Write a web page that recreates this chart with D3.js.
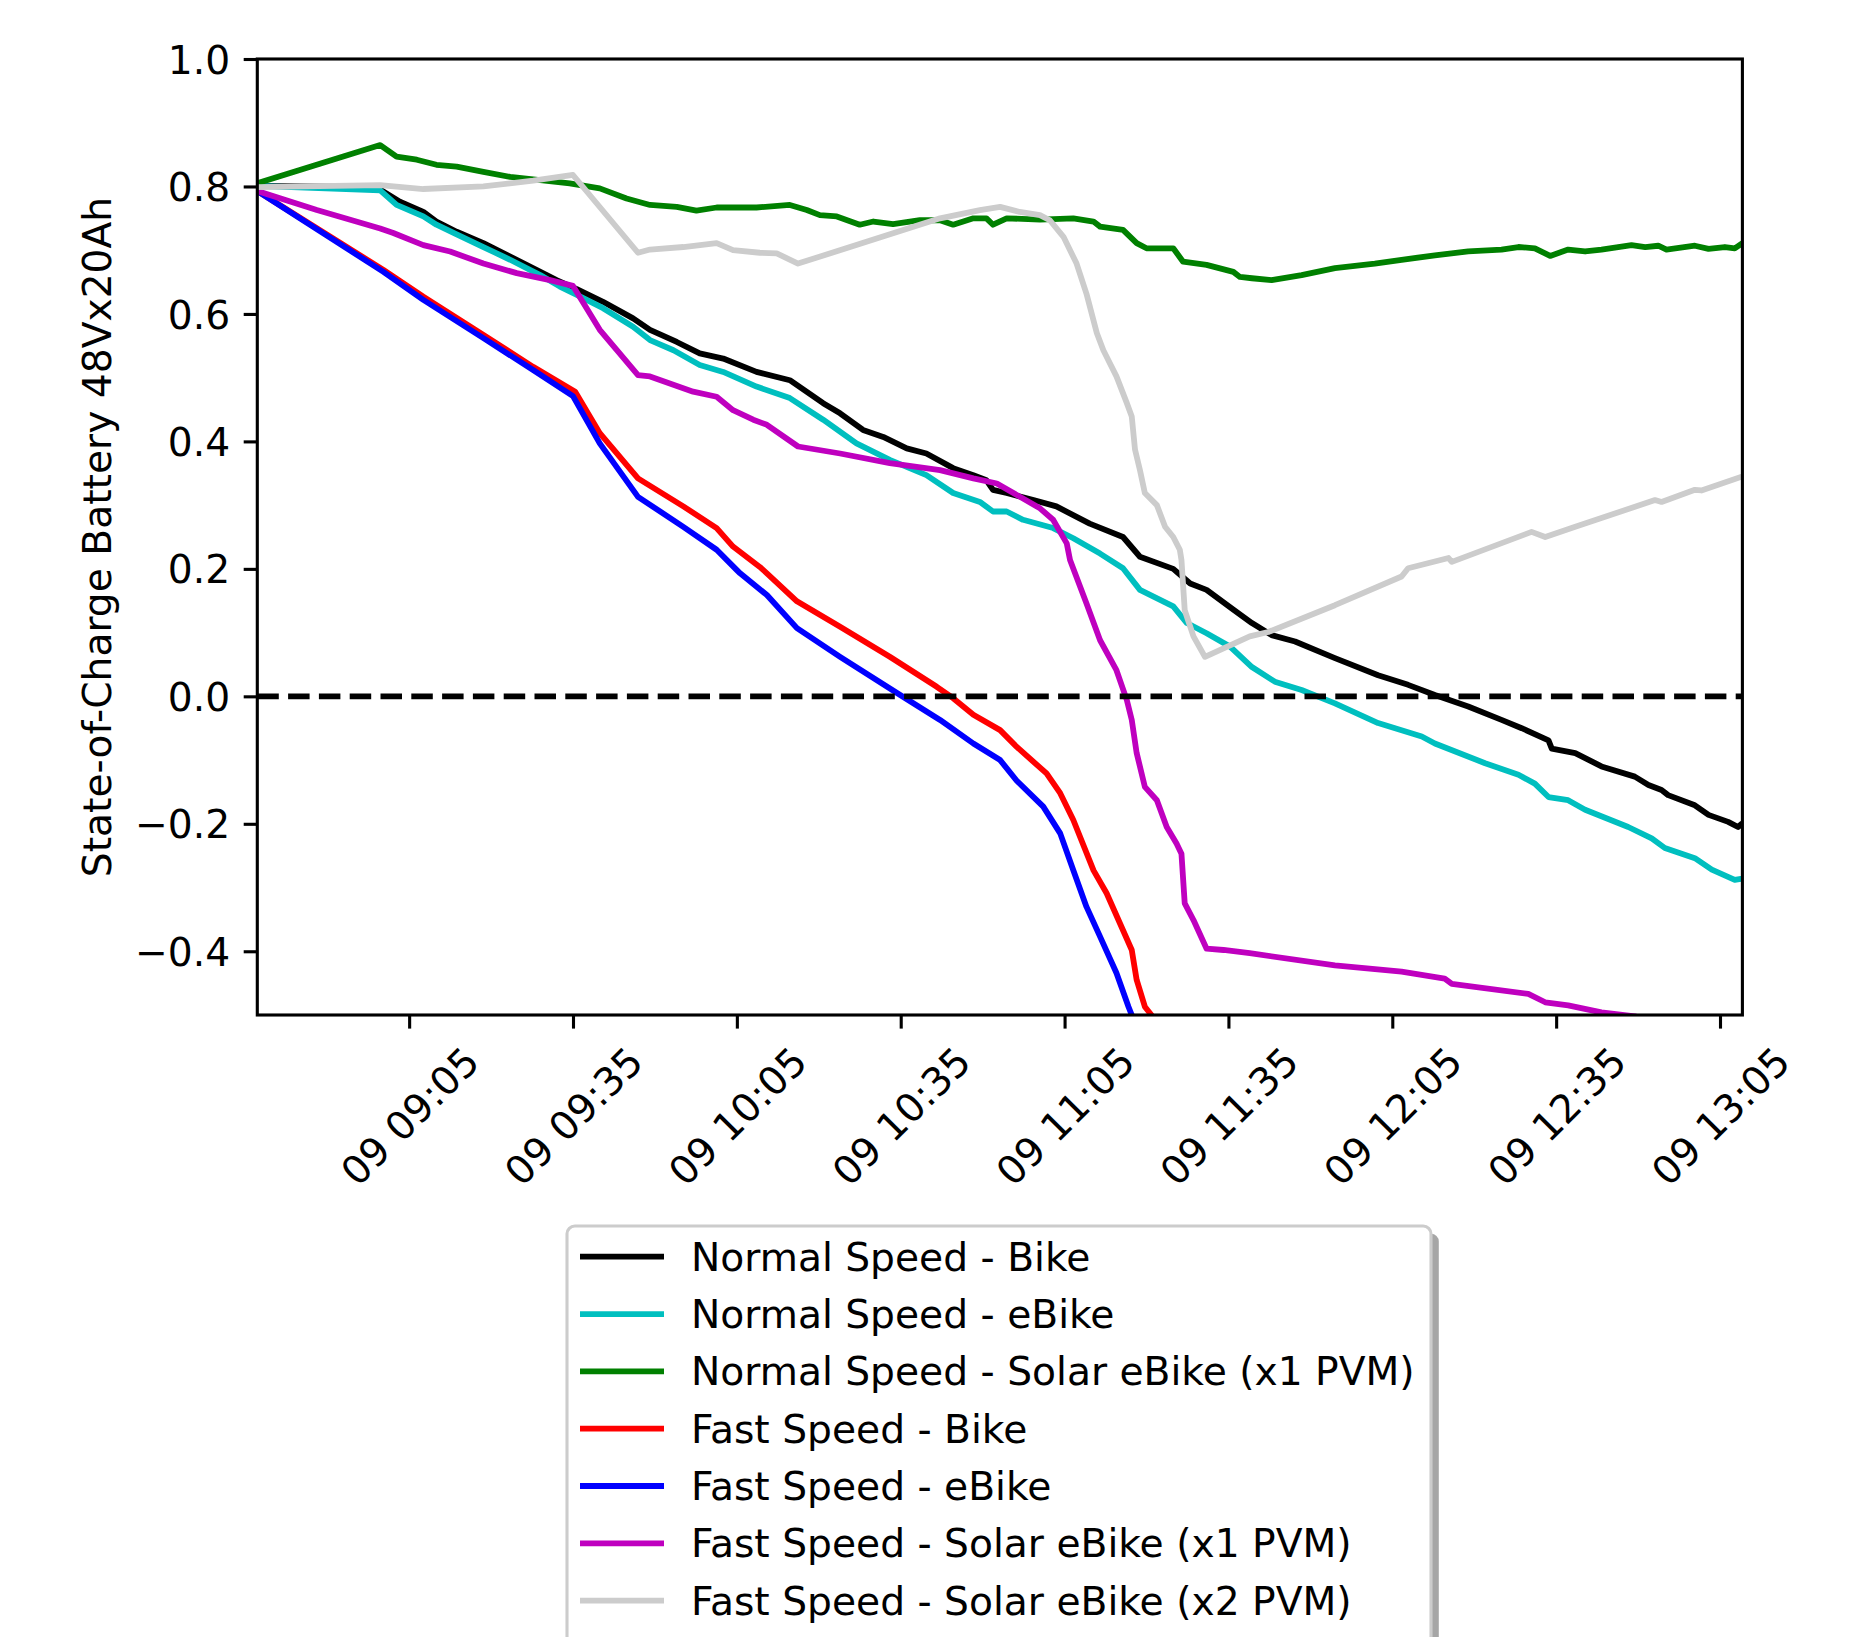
<!DOCTYPE html>
<html><head><meta charset="utf-8">
<script src="https://cdn.jsdelivr.net/npm/d3@7"></script>
<style>
body{margin:0;background:#fff}
text{font-family:"DejaVu Sans",sans-serif;fill:#000}
</style>
</head><body>
<svg id="chart" width="1851" height="1637"></svg>
<script>
// Time is given as minutes after 08:00 on day 09; value is state of charge.
const seriesNames = [
  "Normal Speed - Bike",
  "Normal Speed - eBike",
  "Normal Speed - Solar eBike (x1 PVM)",
  "Fast Speed - Bike",
  "Fast Speed - eBike",
  "Fast Speed - Solar eBike (x1 PVM)",
  "Fast Speed - Solar eBike (x2 PVM)"
];
const seriesColors = ["#000000","#00bfbf","#008000","#ff0000","#0000ff","#bf00bf","#cccccc"];

const normalBike = [[37.2,0.801],[59.0,0.799],[63.3,0.776],[67.6,0.760],[70.0,0.745],[73.7,0.729],[78.6,0.711],[83.5,0.690],[88.3,0.669],[92.0,0.653],[95.7,0.639],[100.5,0.619],[106.0,0.593],[109.1,0.575],[114.0,0.556],[118.2,0.538],[122.5,0.530],[128.6,0.509],[134.7,0.496],[140.8,0.460],[143.9,0.444],[148.1,0.418],[151.8,0.407],[156.1,0.389],[159.7,0.381],[164.6,0.358],[168.3,0.347],[170.7,0.339],[171.9,0.324],[174.4,0.319],[179.3,0.308],[183.5,0.298],[189.6,0.271],[195.7,0.250],[198.8,0.219],[204.9,0.200],[208.0,0.177],[211.0,0.167],[215.9,0.136],[219.3,0.115],[222.9,0.096],[227.2,0.086],[234.5,0.060],[242.4,0.033],[247.9,0.018],[252.8,0.002],[258.9,-0.016],[265.0,-0.037],[268.7,-0.050],[273.6,-0.069],[274.2,-0.082],[278.5,-0.089],[283.3,-0.110],[289.4,-0.126],[291.9,-0.139],[294.3,-0.147],[295.5,-0.155],[300.4,-0.171],[302.9,-0.186],[306.5,-0.197],[308.3,-0.205],[309.1,-0.199]];

const normalEBike = [[37.2,0.801],[59.7,0.794],[62.7,0.771],[67.6,0.753],[70.0,0.740],[73.7,0.725],[78.6,0.705],[83.5,0.685],[89.0,0.661],[92.6,0.643],[95.7,0.630],[100.5,0.609],[106.0,0.580],[109.1,0.559],[113.4,0.543],[118.2,0.520],[122.5,0.509],[128.6,0.486],[134.7,0.468],[140.8,0.434],[146.9,0.397],[153.0,0.371],[159.7,0.347],[164.6,0.319],[169.5,0.305],[171.9,0.290],[174.4,0.290],[177.4,0.277],[182.9,0.264],[186.6,0.248],[191.5,0.224],[195.7,0.201],[198.8,0.167],[204.9,0.141],[207.4,0.115],[211.0,0.099],[215.3,0.078],[219.3,0.046],[223.5,0.023],[228.4,0.010],[234.5,-0.011],[242.4,-0.042],[250.4,-0.063],[252.8,-0.074],[262.0,-0.105],[268.1,-0.123],[271.1,-0.137],[273.6,-0.158],[277.2,-0.163],[280.3,-0.178],[288.2,-0.205],[292.5,-0.223],[294.9,-0.238],[300.4,-0.254],[303.5,-0.272],[307.7,-0.288],[309.1,-0.286]];

const normalSolar1 = [[37.2,0.805],[59.7,0.865],[62.7,0.847],[66.4,0.842],[70.0,0.834],[73.7,0.831],[78.6,0.823],[83.5,0.815],[89.0,0.810],[94.4,0.805],[99.9,0.797],[104.8,0.781],[109.1,0.771],[114.0,0.768],[117.6,0.762],[121.3,0.767],[128.6,0.767],[134.7,0.771],[137.8,0.763],[140.2,0.755],[143.3,0.753],[147.5,0.740],[150.0,0.745],[153.6,0.741],[158.5,0.747],[162.2,0.747],[164.6,0.740],[168.3,0.750],[170.7,0.750],[171.9,0.740],[174.4,0.750],[180.5,0.748],[186.6,0.750],[190.3,0.745],[191.5,0.737],[195.7,0.732],[198.2,0.711],[200.0,0.703],[204.9,0.703],[206.7,0.682],[211.0,0.677],[215.9,0.666],[217.1,0.658],[219.3,0.656],[222.9,0.653],[228.4,0.661],[234.5,0.672],[241.8,0.679],[246.7,0.685],[252.8,0.692],[258.9,0.698],[265.0,0.701],[268.1,0.705],[271.1,0.703],[273.9,0.691],[277.2,0.701],[280.3,0.698],[283.3,0.701],[288.8,0.708],[291.3,0.705],[293.7,0.707],[295.2,0.701],[300.4,0.707],[302.9,0.702],[305.9,0.705],[307.7,0.703],[309.1,0.711]];

const fastBike = [[37.2,0.793],[60.3,0.669],[67.6,0.627],[78.6,0.567],[87.7,0.517],[95.4,0.478],[99.9,0.413],[106.9,0.342],[115.2,0.298],[121.3,0.264],[124.3,0.235],[129.2,0.203],[130.5,0.193],[136.0,0.149],[143.9,0.109],[153.0,0.062],[161.6,0.015],[164.6,-0.003],[168.3,-0.029],[173.2,-0.053],[176.2,-0.079],[181.7,-0.121],[184.2,-0.152],[186.6,-0.194],[190.3,-0.273],[192.7,-0.309],[195.7,-0.367],[197.3,-0.398],[198.2,-0.445],[199.7,-0.487],[200.9,-0.500],[202.0,-0.530]];

const fastEBike = [[37.2,0.793],[60.3,0.666],[67.6,0.622],[78.6,0.562],[87.7,0.512],[95.0,0.471],[99.9,0.397],[106.9,0.313],[115.2,0.266],[121.3,0.230],[125.0,0.198],[125.6,0.193],[130.5,0.159],[136.0,0.107],[143.9,0.062],[154.9,0.002],[162.2,-0.037],[168.3,-0.074],[173.2,-0.100],[176.2,-0.132],[181.1,-0.173],[184.2,-0.215],[186.6,-0.273],[189.0,-0.330],[191.5,-0.377],[194.5,-0.434],[196.7,-0.487],[197.3,-0.500],[198.0,-0.530]];

const fastSolar1 = [[37.2,0.793],[48.1,0.763],[59.7,0.734],[62.1,0.727],[67.6,0.708],[72.5,0.698],[78.6,0.679],[84.7,0.664],[90.8,0.653],[95.0,0.644],[99.9,0.575],[106.9,0.504],[109.1,0.502],[117.0,0.478],[121.3,0.470],[124.3,0.449],[128.0,0.434],[130.5,0.426],[136.2,0.392],[143.9,0.381],[153.0,0.366],[162.2,0.355],[168.3,0.342],[172.6,0.334],[180.5,0.295],[182.9,0.277],[185.4,0.240],[186.0,0.214],[189.0,0.146],[191.5,0.088],[194.5,0.041],[196.4,-0.006],[197.3,-0.037],[198.2,-0.089],[199.7,-0.142],[201.9,-0.163],[203.7,-0.205],[205.5,-0.231],[206.4,-0.247],[207.0,-0.325],[208.6,-0.351],[211.0,-0.396],[214.1,-0.398],[218.9,-0.403],[234.5,-0.422],[246.7,-0.432],[254.6,-0.443],[255.9,-0.451],[269.9,-0.467],[273.0,-0.480],[277.2,-0.485],[283.3,-0.496],[289.4,-0.502],[292.0,-0.510]];

const fastSolar2 = [[37.2,0.799],[59.7,0.802],[67.6,0.796],[78.6,0.800],[87.7,0.809],[95.0,0.818],[106.9,0.696],[109.1,0.701],[115.2,0.705],[121.3,0.711],[124.3,0.700],[129.2,0.696],[132.3,0.695],[136.2,0.679],[162.2,0.750],[169.5,0.763],[173.2,0.768],[176.8,0.760],[180.5,0.755],[182.3,0.747],[184.8,0.721],[187.2,0.679],[189.0,0.632],[190.9,0.570],[192.1,0.543],[194.5,0.502],[196.4,0.460],[197.3,0.439],[197.9,0.387],[198.8,0.355],[199.7,0.319],[201.9,0.300],[203.4,0.266],[204.9,0.250],[206.1,0.230],[206.4,0.214],[207.0,0.135],[208.6,0.094],[210.7,0.062],[218.9,0.094],[222.3,0.101],[234.5,0.143],[246.7,0.188],[247.9,0.201],[255.3,0.217],[255.9,0.211],[270.5,0.258],[273.0,0.250],[278.5,0.266],[293.1,0.308],[294.3,0.305],[300.4,0.324],[301.6,0.323],[309.1,0.345]];

const seriesData = [normalBike, normalEBike, normalSolar1, fastBike, fastEBike, fastSolar1, fastSolar2];

const xStartMin = 37.2, xEndMin = 309.1;          // axis limits, minutes after 08:00
const xTickLabels = ["09:05","09:35","10:05","10:35","11:05","11:35","12:05","12:35","13:05"];
const yTicks = [-0.4,-0.2,0.0,0.2,0.4,0.6,0.8,1.0];
const yDomain = [-0.5, 1.0];
const yLabel = "State-of-Charge Battery 48Vx20Ah";
const refLineValue = 0.0;

// ---------- layout ----------
const FS = 39.2;
const plot = {left:257.3, right:1742.4, top:59, bottom:1015};
const tickLen = 13.6, tickW = 3.1, lineW = 5.8;

const base = new Date(2019, 0, 9, 8, 0, 0);
const toDate = m => new Date(base.getTime() + m * 60000);
const parseClock = d3.timeParse("%Y-%m-%d %H:%M");

const svg = d3.select("#chart");
svg.append("rect").attr("width",1851).attr("height",1637).attr("fill","#fff");

const x = d3.scaleTime().domain([toDate(xStartMin), toDate(xEndMin)]).range([plot.left, plot.right]);
const y = d3.scaleLinear().domain(yDomain).range([plot.bottom, plot.top]);

svg.append("clipPath").attr("id","clip").append("rect")
  .attr("x",plot.left).attr("y",plot.top)
  .attr("width",plot.right-plot.left).attr("height",plot.bottom-plot.top);

const line = d3.line().x(d => x(toDate(d[0]))).y(d => y(d[1]));
const g = svg.append("g").attr("clip-path","url(#clip)");
seriesData.forEach((data, i) => {
  g.append("path").attr("d", line(data)).attr("fill","none")
    .attr("stroke", seriesColors[i]).attr("stroke-width", lineW)
    .attr("stroke-linejoin","round").attr("stroke-linecap","butt");
});
// zero reference line
g.append("line").attr("x1",plot.left).attr("x2",plot.right)
  .attr("y1",y(refLineValue)).attr("y2",y(refLineValue))
  .attr("stroke","#000").attr("stroke-width",lineW).attr("stroke-dasharray","21.5,9.3");

// axes
const xTicks = xTickLabels.map(s => parseClock("2019-01-09 " + s));
const xAxis = d3.axisBottom(x).tickValues(xTicks).tickFormat(d3.timeFormat("%d %H:%M"))
  .tickSize(tickLen).tickPadding(tickLen);
const gx = svg.append("g").attr("transform",`translate(0,${plot.bottom})`).call(xAxis);
gx.select(".domain").remove();
gx.selectAll(".tick line").attr("stroke","#000").attr("stroke-width",tickW);
gx.selectAll(".tick text").attr("font-size",FS).attr("font-family","DejaVu Sans")
  .attr("text-anchor","middle").attr("x",0).attr("y",0).attr("dy","0.36em")
  .attr("transform",`translate(0,${1116-plot.bottom}) rotate(-45)`);

const yAxis = d3.axisLeft(y).tickValues(yTicks).tickFormat(d3.format(".1f"))
  .tickSize(tickLen).tickPadding(tickLen);
const gy = svg.append("g").attr("transform",`translate(${plot.left},0)`).call(yAxis);
gy.select(".domain").remove();
gy.selectAll(".tick line").attr("stroke","#000").attr("stroke-width",tickW);
gy.selectAll(".tick text").attr("font-size",FS).attr("font-family","DejaVu Sans").attr("dy","0.36em");

// spines
svg.append("rect").attr("x",plot.left).attr("y",plot.top)
  .attr("width",plot.right-plot.left).attr("height",plot.bottom-plot.top)
  .attr("fill","none").attr("stroke","#000").attr("stroke-width",tickW);

// y label
svg.append("text").attr("transform",`translate(111,${(plot.top+plot.bottom)/2}) rotate(-90)`)
  .attr("text-anchor","middle").attr("font-size",FS).text(yLabel);

// legend
const leg = {left:567, right:1431, top:1226, bottom:1644, row0:1256.7, rowStep:57.33};
svg.append("rect").attr("x",leg.left+7.8).attr("y",leg.top+7.8)
  .attr("width",leg.right-leg.left).attr("height",leg.bottom-leg.top)
  .attr("rx",7.8).attr("fill","#4d4d4d").attr("opacity",0.5);
svg.append("rect").attr("x",leg.left).attr("y",leg.top)
  .attr("width",leg.right-leg.left).attr("height",leg.bottom-leg.top)
  .attr("rx",7.8).attr("fill","#fff").attr("stroke","#cccccc").attr("stroke-width",tickW);
const items = svg.append("g").selectAll("g").data(seriesNames).join("g")
  .attr("transform",(d,i)=>`translate(0,${leg.row0 + i*leg.rowStep})`);
items.append("line").attr("x1",580).attr("x2",664).attr("y1",0).attr("y2",0)
  .attr("stroke",(d,i)=>seriesColors[i]).attr("stroke-width",lineW);
items.append("text").attr("x",691).attr("y",0).attr("dy","0.36em")
  .attr("font-size",FS).text(d=>d);
</script>
</body></html>
